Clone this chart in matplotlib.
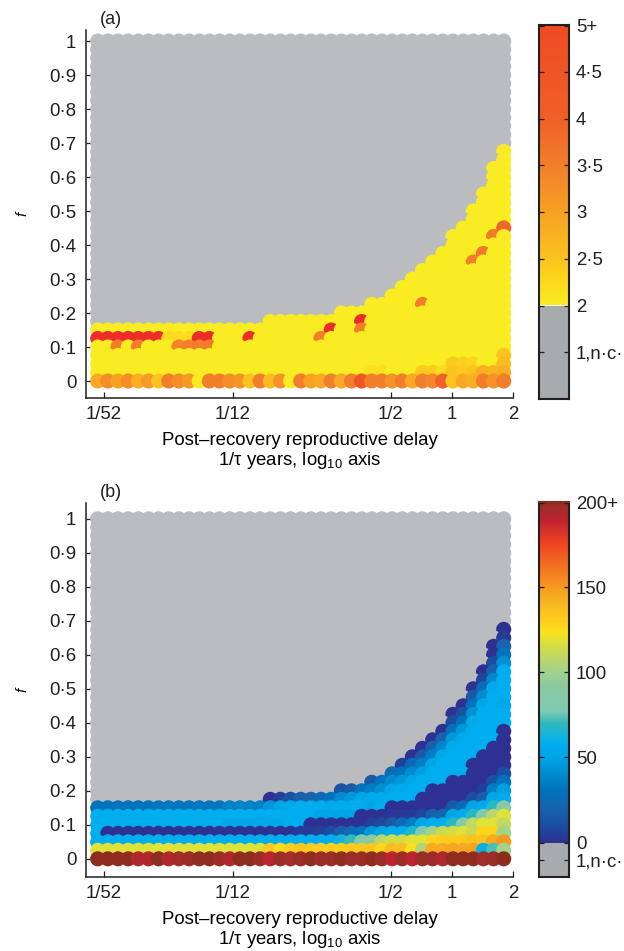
import numpy as np
from matplotlib import pyplot as plt
from matplotlib.colors import LinearSegmentedColormap, Normalize

plt.rcParams['font.family'] = ['Liberation Sans', 'DejaVu Sans']
plt.rcParams['mathtext.default'] = 'regular'
plt.rcParams['text.color'] = '#231f20'
plt.rcParams['axes.edgecolor'] = '#231f20'
plt.rcParams['xtick.color'] = '#231f20'
plt.rcParams['ytick.color'] = '#231f20'

# grid of the parameter sweep
x_first = 0.018
x_last = 1.8
n_cols = 41
n_rows = 41
f_step = 0.025

# highest row with a result, per column (above it: no cycles, grey)
top_row = [6] * 17 + [7] * 7 + [8] * 3 + [9] * 2 + [10, 11, 12, 13, 14, 15, 17, 18, 20, 22, 25, 27]

x_ticks = [1 / 52, 1 / 12, 1 / 2, 1, 2]
x_tick_labels = ['1/52', '1/12', '1/2', '1', '2']
y_ticks = [0, 0.1, 0.2, 0.3, 0.4, 0.5, 0.6, 0.7, 0.8, 0.9, 1]
y_tick_labels = ['0', '0·1', '0·2', '0·3', '0·4', '0·5', '0·6', '0·7', '0·8', '0·9', '1']

# panel (a): most of the cells are 2, the rest is listed here
a_bottom = [2.9, 3.3, 3, 3.3, 2.8, 3.1, 2.5, 3.5, 3.3, 3.1, 2, 3.5, 3.5, 3.3, 3.2, 2.5, 3.5, 2.6, 3.2, 2, 3.5,
            3, 2.9, 3.5, 2.9, 3.5, 4.5, 3.5, 3.5, 3.2, 3.5, 2.9, 3.5, 3.4, 4, 2.5, 2.9, 2.8, 3.5, 3.2, 3.5]
a_other_cols = [0, 1, 2, 3, 4, 5, 6, 7, 8, 9, 10, 11, 15, 22, 23, 26, 26, 32, 37, 38, 39, 40,
                2, 4, 8, 9, 10, 11,
                27, 28, 32, 33, 34, 35, 36, 37, 38, 39, 40, 35, 36, 37, 40, 40]
a_other_rows = [5, 5, 5, 5, 5, 5, 5, 5, 5, 5, 5, 5, 5, 5, 6, 7, 6, 9, 14, 15, 17, 18,
                4, 4, 4, 4, 4, 4,
                1, 1, 1, 1, 1, 1, 1, 1, 1, 1, 1, 2, 2, 2, 2, 3]
a_other_vals = [6, 6, 6, 6, 6, 6, 6, 2.2, 2.2, 2.2, 6, 6, 6, 3.5, 6, 6, 3.5, 3.5, 3.5, 3.6, 3.6, 3.9,
                3.5, 3.5, 3.4, 3.5, 3.5, 3.5,
                2.15, 2.15, 2.4, 2.4, 2.2, 2.5, 2.4, 2.5, 2.8, 2.7, 2.8, 2.45, 2.35, 2.3, 2.6, 2.5]

# panel (b): bottom row, then one list per column from row 1 up to top_row
b_bottom = [200, 200, 200, 200, 193, 193, 200, 193, 196, 198, 200, 200, 198, 193, 200, 200, 198, 190, 198, 196, 198,
            200, 198, 198, 200, 198, 198, 200, 198, 190, 198, 190, 198, 198, 193, 200, 200, 200, 197, 198, 200]
b_col_00 = [118, 58, 58, 58, 58, 30]
b_cols_01_05 = [118, 58, 0, 58, 58, 30]
b_cols_06_12 = [118, 58, 0, 58, 58, 32]
b_cols_13_16 = [118, 58, 0, 53, 58, 36]
b_col_17 = [133, 58, 0, 53, 58, 45, 0]
b_col_18 = [125, 58, 0, 53, 58, 50, 5]
b_col_19 = [130, 58, 0, 58, 58, 55, 12]
b_col_20 = [133, 58, 3, 58, 58, 58, 18]
b_col_21 = [132, 58, 3, 0, 58, 58, 20]
b_col_22 = [130, 58, 5, 0, 52, 58, 25]
b_col_23 = [130, 58, 10, 0, 52, 55, 30]
b_col_24 = [130, 62, 18, 0, 50, 58, 40, 12]
b_col_25 = [133, 70, 25, 0, 50, 58, 45, 15]
b_col_26 = [133, 82, 30, 0, 0, 58, 50, 30]
b_col_27 = [135, 92, 45, 5, 0, 50, 55, 35, 15]
b_col_28 = [128, 108, 50, 8, 0, 58, 55, 42, 30]
b_col_29 = [138, 115, 56, 15, 3, 0, 58, 52, 40, 25]
b_col_30 = [138, 115, 58, 25, 3, 0, 58, 55, 45, 30, 5]
b_col_31 = [124, 118, 66, 35, 3, 0, 58, 58, 52, 40, 25, 0]
b_col_32 = [105, 118, 80, 50, 8, 0, 0, 58, 58, 48, 35, 15, 0]
b_col_33 = [145, 128, 100, 58, 18, 0, 0, 0, 58, 58, 50, 35, 18, 0]
b_col_34 = [145, 130, 112, 58, 22, 0, 0, 0, 58, 58, 58, 52, 38, 20, 0]
b_col_35 = [147, 132, 115, 68, 50, 15, 0, 0, 0, 58, 58, 58, 55, 45, 28, 10, 0]
b_col_36 = [146, 132, 118, 85, 55, 25, 0, 0, 0, 58, 58, 58, 58, 55, 45, 28, 12, 0]
b_col_37 = [147, 136, 112, 110, 68, 50, 10, 0, 0, 0, 0, 58, 58, 58, 58, 55, 42, 30, 15, 0]
b_col_38 = [60, 135, 128, 118, 82, 55, 18, 5, 0, 0, 0, 0, 58, 58, 58, 58, 58, 52, 40, 25, 8, 0]
b_col_39 = [72, 145, 128, 118, 108, 68, 52, 35, 12, 0, 0, 0, 0, 58, 58, 58, 58, 58, 58, 55, 38, 18, 10, 0, 0]
b_col_40 = [100, 150, 100, 110, 118, 90, 55, 48, 30, 10, 0, 0, 0, 0, 0, 58, 58, 52, 58, 58, 58, 58, 42, 30, 20, 3, 0]

b_columns = ([b_col_00] + [b_cols_01_05] * 5 + [b_cols_06_12] * 7 + [b_cols_13_16] * 4 +
             [b_col_17, b_col_18, b_col_19, b_col_20, b_col_21, b_col_22, b_col_23, b_col_24, b_col_25, b_col_26,
              b_col_27, b_col_28, b_col_29, b_col_30, b_col_31, b_col_32, b_col_33, b_col_34, b_col_35, b_col_36,
              b_col_37, b_col_38, b_col_39, b_col_40])

# colour scales
a_stops = [2, 2.25, 2.5, 3, 3.5, 4, 5]
a_colors = ['#f9ec23', '#fdd81c', '#fbc31f', '#f7a123', '#f27e2c', '#f06028', '#f04a23']
b_stops = [0, 10, 20, 30, 40, 50, 58, 64, 70, 77, 92, 100, 108, 115, 118, 124, 130, 136, 147, 150, 176, 190, 197, 200]
b_colors = ['#2e3192', '#1b4fa0', '#1863ac', '#0072bc', '#008bd0', '#00a5e5', '#00aeef', '#18b5d8', '#30b9bc',
            '#7ccbb4', '#8cc8a0', '#a0d48c', '#bbd66b', '#d2dd45', '#dde23a', '#fde01c', '#fccf1e', '#fbc31f',
            '#f5a623', '#f79a20', '#ef4423', '#be2230', '#a02e2a', '#8e2c20']
no_cycle_grey = '#bbbcc0'
bar_grey = '#a7abae'
over_red = '#ee2d2a'

label_size = 13.4


def make_cmap(stops, colors):
    lo, hi = stops[0], stops[-1]
    pairs = [((s - lo) / (hi - lo), c) for s, c in zip(stops, colors)]
    return LinearSegmentedColormap.from_list('scale', pairs, N=512)


def px_axes(fig, left, top, right, bottom):
    W, H = fig.canvas.get_width_height()
    return fig.add_axes([left / W, 1 - bottom / H, (right - left) / W, (bottom - top) / H])


def draw_panel(ax, cell_colors, ylim, name):
    xs = np.geomspace(x_first, x_last, n_cols)
    # top rows first and left to right, lower and right circles cover the earlier ones
    for r in range(n_rows - 1, -1, -1):
        ax.scatter(xs, [r * f_step] * n_cols, s=118, c=[cell_colors(c, r) for c in range(n_cols)],
                   linewidths=0, clip_on=False, zorder=2)
    ax.set_xscale('log')
    ax.set_xlim(0.01576, 2)
    ax.set_ylim(*ylim)
    ax.spines['top'].set_visible(False)
    ax.spines['right'].set_visible(False)
    ax.spines['left'].set_linewidth(1.1)
    ax.spines['bottom'].set_linewidth(1.1)
    ax.set_xticks(x_ticks)
    ax.set_xticklabels(x_tick_labels)
    ax.minorticks_off()
    ax.set_yticks(y_ticks)
    ax.set_yticklabels(y_tick_labels)
    ax.tick_params(direction='in', length=4.5, width=0.9, labelsize=label_size)
    ax.tick_params(axis='x', pad=6)
    ax.tick_params(axis='y', pad=7)
    ax.set_xlabel('Post–recovery reproductive delay\n1/τ years, log$_{10}$ axis', size=label_size, labelpad=6, linespacing=1.08)
    ax.set_ylabel('f', style='italic', size=11, labelpad=14)
    ax.text(0.0315, 1.006, name, transform=ax.transAxes, size=label_size - 0.4, va='bottom', ha='left')


def draw_bar(ax, cmap, n_levels, low_top, ticks, labels, top_line=False):
    gradient = np.linspace(1, 0, 400).reshape(-1, 1)
    ax.imshow(gradient, cmap=cmap, aspect='auto', extent=(0, 1, low_top, n_levels), vmin=0, vmax=1)
    ax.axhspan(0, low_top, color=bar_grey, linewidth=0)
    ax.set_xlim(0, 1)
    ax.set_ylim(0, n_levels)
    ax.set_xticks([])
    ax.set_yticks(ticks)
    ax.set_yticklabels(labels)
    ax.yaxis.tick_right()
    ax.tick_params(axis='y', left=True, right=True, direction='in', length=3.5, width=0.9, labelsize=label_size, pad=5)
    for sp in ax.spines.values():
        sp.set_linewidth(1.5)
    if top_line:
        ax.spines['top'].set_color('#8e2c20')


def main():
    fig = plt.figure(figsize=(6.24, 9.51), dpi=100)

    # panel (a)
    a_cmap = make_cmap(a_stops, a_colors)
    a_norm = Normalize(a_stops[0], a_stops[-1])
    a_other = {(c, r): v for c, r, v in zip(a_other_cols, a_other_rows, a_other_vals)}

    def a_color(c, r):
        if r > top_row[c]:
            return no_cycle_grey
        v = a_bottom[c] if r == 0 else a_other.get((c, r), 2)
        return over_red if v > 5 else a_cmap(a_norm(v))

    ax_a = px_axes(fig, 86, 30, 513, 398)
    draw_panel(ax_a, a_color, (-0.05, 1.0324), '(a)')

    # panel (b)
    b_cmap = make_cmap(b_stops, b_colors)
    b_norm = Normalize(b_stops[0], b_stops[-1])

    def b_color(c, r):
        if r > top_row[c]:
            return no_cycle_grey
        v = b_bottom[c] if r == 0 else b_columns[c][r - 1]
        return b_cmap(b_norm(v))

    ax_b = px_axes(fig, 86, 503, 513, 877)
    draw_panel(ax_b, b_color, (-0.0535, 1.0465), '(b)')

    # colour bars, the grey part below the first colour is not to scale
    bar_a = px_axes(fig, 539, 25, 569, 399)
    draw_bar(bar_a, a_cmap, 8, 2, [1, 2, 3, 4, 5, 6, 7, 7.98],
             ['1,n·c·', '2', '2·5', '3', '3·5', '4', '4·5', '5+'])

    bar_b = px_axes(fig, 539, 502, 569, 877)
    low = 34.6 / 1.71
    draw_bar(bar_b, b_cmap, 200 + low, low, [low - 17.6 / 1.71, low, low + 50, low + 100, low + 150, low + 199.5],
             ['1,n·c·', '0', '50', '100', '150', '200+'], top_line=True)

    fig.savefig('out.png', dpi=100)


if __name__ == '__main__':
    main()
